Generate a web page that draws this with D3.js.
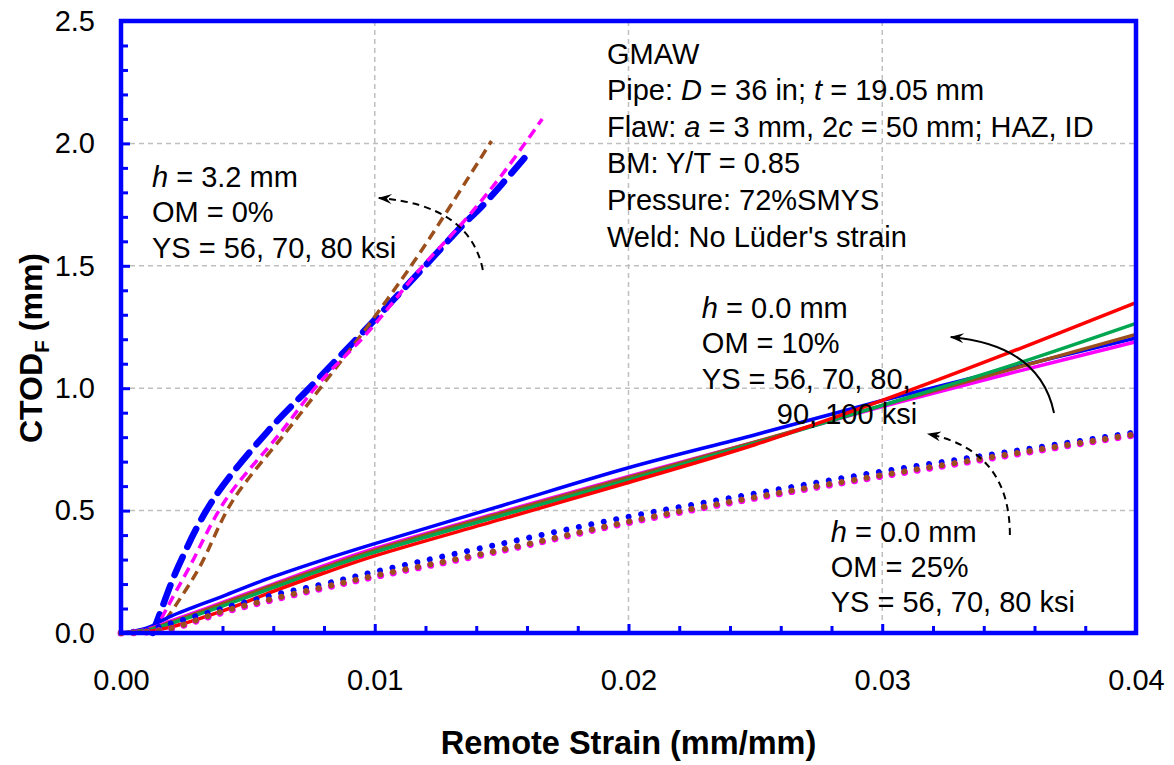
<!DOCTYPE html>
<html>
<head>
<meta charset="utf-8">
<title>CTOD vs remote strain</title>
<script src="https://cdn.jsdelivr.net/npm/d3@7"></script>
<style>
  body { margin: 0; background: #fff; }
  svg { display: block; }
</style>
</head>
<body>
<svg width="1174" height="765" id="mainSvg"></svg>
<script>
// ---- data ----
const xTicks = [0, 0.01, 0.02, 0.03, 0.04];
const yTicks = [0, 0.5, 1.0, 1.5, 2.0, 2.5];

// common strain grid for h = 0.0 mm curves
const strainGrid = [0, 0.001, 0.002, 0.004, 0.006, 0.008, 0.010, 0.015, 0.020, 0.025, 0.030, 0.035, 0.040];

// h = 0.0 mm, OM = 10% (solid)
const om10Blue    = [0, 0.020, 0.070, 0.150, 0.230, 0.300, 0.365, 0.520, 0.675, 0.810, 0.950, 1.080, 1.205];
const om10Magenta = [0, 0.015, 0.050, 0.125, 0.200, 0.275, 0.345, 0.495, 0.640, 0.780, 0.925, 1.060, 1.190];
const om10Brown   = [0, 0.012, 0.045, 0.120, 0.195, 0.268, 0.338, 0.490, 0.635, 0.780, 0.930, 1.075, 1.220];
const om10Green   = [0, 0.010, 0.040, 0.110, 0.185, 0.260, 0.330, 0.480, 0.625, 0.775, 0.930, 1.090, 1.265];
const om10Red     = [0, 0.005, 0.025, 0.090, 0.170, 0.245, 0.315, 0.465, 0.615, 0.770, 0.950, 1.145, 1.350];

// h = 0.0 mm, OM = 25% (dotted)
const om25Blue    = [0, 0.012, 0.040, 0.100, 0.155, 0.200, 0.250, 0.365, 0.475, 0.570, 0.660, 0.740, 0.820];
const om25Magenta = [0, 0.004, 0.018, 0.084, 0.136, 0.184, 0.230, 0.336, 0.451, 0.551, 0.641, 0.726, 0.810];
const om25Brown   = [0, 0.005, 0.020, 0.088, 0.140, 0.188, 0.234, 0.340, 0.455, 0.555, 0.645, 0.730, 0.812];

// h = 3.2 mm, OM = 0% (dashed)
const om0BlueStrain    = [0.00125, 0.0015, 0.00225, 0.0036, 0.00575, 0.0076, 0.0095, 0.0119, 0.0135, 0.0142, 0.0159];
const om0BlueCtod      = [0, 0.07, 0.27, 0.54, 0.82, 1.02, 1.225, 1.49, 1.67, 1.74, 1.94];
const om0MagentaStrain = [0.0013, 0.0018, 0.0027, 0.0041, 0.0063, 0.0078, 0.0097, 0.0119, 0.0135, 0.0150, 0.0166];
const om0MagentaCtod   = [0, 0.10, 0.27, 0.54, 0.82, 1.02, 1.225, 1.50, 1.68, 1.87, 2.10];
const om0BrownStrain   = [0.0014, 0.0022, 0.0031, 0.0044, 0.0065, 0.0080, 0.0097, 0.0115, 0.0128, 0.0146];
const om0BrownCtod     = [0, 0.12, 0.27, 0.54, 0.82, 1.02, 1.25, 1.51, 1.715, 2.01];

const BLUE = "#0000ff", MAGENTA = "#ff00ff", BROWN = "#9a4f1c", GREEN = "#00a650", RED = "#ff0000";
const FONT = "Arial, 'Liberation Sans', sans-serif";

const zip = (xs, ys) => xs.map((x, i) => [x, ys[i]]);

// drawing order matters (last on top)
const series = [
  { pts: zip(om0BlueStrain, om0BlueCtod), color: BLUE, width: 6.5, dash: "20 11", cap: "round" },
  { pts: zip(om0BrownStrain, om0BrownCtod), color: BROWN, width: 3.5, dash: "10 6", cap: "butt" },
  { pts: zip(om0MagentaStrain, om0MagentaCtod), color: MAGENTA, width: 3.5, dash: "10 6", cap: "butt" },
  { pts: zip(strainGrid, om10Blue), color: BLUE, width: 3.5 },
  { pts: zip(strainGrid, om10Magenta), color: MAGENTA, width: 3.5 },
  { pts: zip(strainGrid, om10Brown), color: BROWN, width: 3.5 },
  { pts: zip(strainGrid, om10Green), color: GREEN, width: 3.5 },
  { pts: zip(strainGrid, om10Red), color: RED, width: 3.5 },
  { pts: zip(strainGrid, om25Blue), color: BLUE, width: 6, dash: "0.01 12.7", cap: "round" },
  { pts: zip(strainGrid, om25Magenta), color: MAGENTA, width: 7, dash: "0.01 12.7", cap: "round" },
  { pts: zip(strainGrid, om25Brown), color: BROWN, width: 6, dash: "0.01 12.7", cap: "round" }
];

// annotation text blocks: anchor in data units, lines of [text, italic]
const notes = [
  { at: [0.00122, 1.822], step: 35.5, lines: [
      [["h", true], [" = 3.2 mm", false]],
      [["OM = 0%", false]],
      [["YS = 56, 70, 80 ksi", false]] ] },
  { at: [0.01915, 2.326], step: 36.6, lines: [
      [["GMAW", false]],
      [["Pipe: ", false], ["D", true], [" = 36 in; ", false], ["t", true], [" = 19.05 mm", false]],
      [["Flaw: ", false], ["a", true], [" = 3 mm, 2", false], ["c", true], [" = 50 mm; HAZ, ID", false]],
      [["BM: Y/T = 0.85", false]],
      [["Pressure: 72%SMYS", false]],
      [["Weld: No Lüder's strain", false]] ] },
  { at: [0.02289, 1.287], step: 35.3, lines: [
      [["h", true], [" = 0.0 mm", false]],
      [["OM = 10%", false]],
      [["YS = 56, 70, 80,", false]],
      [["90, 100 ksi", false]] ], indent: [0, 0, 0, 75] },
  { at: [0.02797, 0.372], step: 35, lines: [
      [["h", true], [" = 0.0 mm", false]],
      [["OM = 25%", false]],
      [["YS = 56, 70, 80 ksi", false]] ] }
];

// curved arrows: start, control, tip (data units)
const arrows = [
  { from: [0.01426, 1.483], ctrl: [0.01375, 1.748], to: [0.01016, 1.777], dashed: true },
  { from: [0.03677, 0.899], ctrl: [0.03621, 1.176], to: [0.03270, 1.209], dashed: false },
  { from: [0.03503, 0.400], ctrl: [0.03503, 0.747], to: [0.03180, 0.813], dashed: true }
];

// ---- layout ----
const mainSvg = d3.select("#mainSvg");
const margin = { top: 21, right: 38, bottom: 132, left: 121 };
const innerWidth = +mainSvg.attr("width") - margin.left - margin.right;
const innerHeight = +mainSvg.attr("height") - margin.top - margin.bottom;

const x = d3.scaleLinear().domain([0, 0.04]).range([0, innerWidth]);
const y = d3.scaleLinear().domain([0, 2.5]).range([innerHeight, 0]);

const g = mainSvg.append("g").attr("transform", `translate(${margin.left},${margin.top})`);

// grid
g.append("g").selectAll("line").data(xTicks.slice(1, -1)).join("line")
  .attr("x1", d => x(d)).attr("x2", d => x(d)).attr("y1", 0).attr("y2", innerHeight)
  .attr("stroke", "#bfbfbf").attr("stroke-width", 1.5).attr("stroke-dasharray", "5 4");
g.append("g").selectAll("line").data(yTicks.slice(1, -1)).join("line")
  .attr("y1", d => y(d)).attr("y2", d => y(d)).attr("x1", 0).attr("x2", innerWidth)
  .attr("stroke", "#bfbfbf").attr("stroke-width", 1.5).attr("stroke-dasharray", "5 4");

// axes (ticks point inward)
const xMinor = d3.range(0, 0.0401, 0.002).filter(v => Math.abs(v / 0.01 - Math.round(v / 0.01)) > 1e-6);
const yMinor = d3.range(0, 2.501, 0.1).filter(v => Math.abs(v / 0.5 - Math.round(v / 0.5)) > 1e-6);

const xAxis = g.append("g").attr("transform", `translate(0,${innerHeight})`)
  .call(d3.axisBottom(x).tickValues(xTicks).tickSize(-9).tickPadding(36).tickFormat(d3.format(".2f")));
g.append("g").attr("transform", `translate(0,${innerHeight})`)
  .call(d3.axisBottom(x).tickValues(xMinor).tickSize(-7).tickFormat(""))
  .call(a => a.select(".domain").remove());
const yAxis = g.append("g")
  .call(d3.axisLeft(y).tickValues(yTicks).tickSize(-9).tickPadding(26).tickFormat(d3.format(".1f")));
g.append("g")
  .call(d3.axisLeft(y).tickValues(yMinor).tickSize(-7).tickFormat(""))
  .call(a => a.select(".domain").remove());

g.selectAll(".domain").remove();
g.selectAll(".tick line").attr("stroke", BLUE).attr("stroke-width", 3);
[xAxis, yAxis].forEach(a => a.selectAll("text")
  .attr("font-family", FONT).attr("font-size", 29).attr("fill", "#000"));

// curves
const line = d3.line().x(d => x(d[0])).y(d => y(d[1])).curve(d3.curveCatmullRom.alpha(0.5));
g.append("g").selectAll("path").data(series).join("path")
  .attr("d", d => line(d.pts))
  .attr("fill", "none")
  .attr("stroke", d => d.color)
  .attr("stroke-width", d => d.width)
  .attr("stroke-dasharray", d => d.dash || null)
  .attr("stroke-linecap", d => d.cap || "butt")
  .attr("stroke-linejoin", "round");

// plot border
g.append("rect").attr("width", innerWidth).attr("height", innerHeight)
  .attr("fill", "none").attr("stroke", BLUE).attr("stroke-width", 4.5);

// arrow marker
mainSvg.append("defs").append("marker")
  .attr("id", "head").attr("viewBox", "0 0 14 10")
  .attr("refX", 13).attr("refY", 5)
  .attr("markerWidth", 15).attr("markerHeight", 10)
  .attr("markerUnits", "userSpaceOnUse").attr("orient", "auto")
  .append("path").attr("d", "M0,0 L14,5 L0,10 L5,5 Z").attr("fill", "#000");

g.append("g").selectAll("path").data(arrows).join("path")
  .attr("d", a => {
    const p = d3.path();
    p.moveTo(x(a.from[0]), y(a.from[1]));
    p.quadraticCurveTo(x(a.ctrl[0]), y(a.ctrl[1]), x(a.to[0]), y(a.to[1]));
    return p.toString();
  })
  .attr("fill", "none").attr("stroke", "#000").attr("stroke-width", 2)
  .attr("stroke-dasharray", a => a.dashed ? "7 5" : null)
  .attr("marker-end", "url(#head)");

// annotation text
notes.forEach(n => {
  n.lines.forEach((segs, i) => {
    const t = g.append("text")
      .attr("x", x(n.at[0]) + (n.indent ? n.indent[i] : 0))
      .attr("y", y(n.at[1]) + i * n.step)
      .attr("font-family", FONT).attr("font-size", 29).attr("fill", "#000")
      .attr("xml:space", "preserve");
    segs.forEach(([txt, it]) => t.append("tspan").attr("font-style", it ? "italic" : null).text(txt));
  });
});

// axis titles
mainSvg.append("text")
  .attr("x", margin.left + innerWidth / 2 + 0).attr("y", 754)
  .attr("text-anchor", "middle").attr("font-family", FONT).attr("font-size", 32.5).attr("font-weight", "bold")
  .text("Remote Strain (mm/mm)");

const yt = mainSvg.append("text")
  .attr("transform", "translate(42,348) rotate(-90)")
  .attr("text-anchor", "middle").attr("font-family", FONT).attr("font-size", 32).attr("font-weight", "bold");
yt.append("tspan").text("CTOD");
yt.append("tspan").attr("font-size", 21).attr("dy", 7).text("F");
yt.append("tspan").attr("dy", -7).text(" (mm)");
</script>
</body>
</html>
